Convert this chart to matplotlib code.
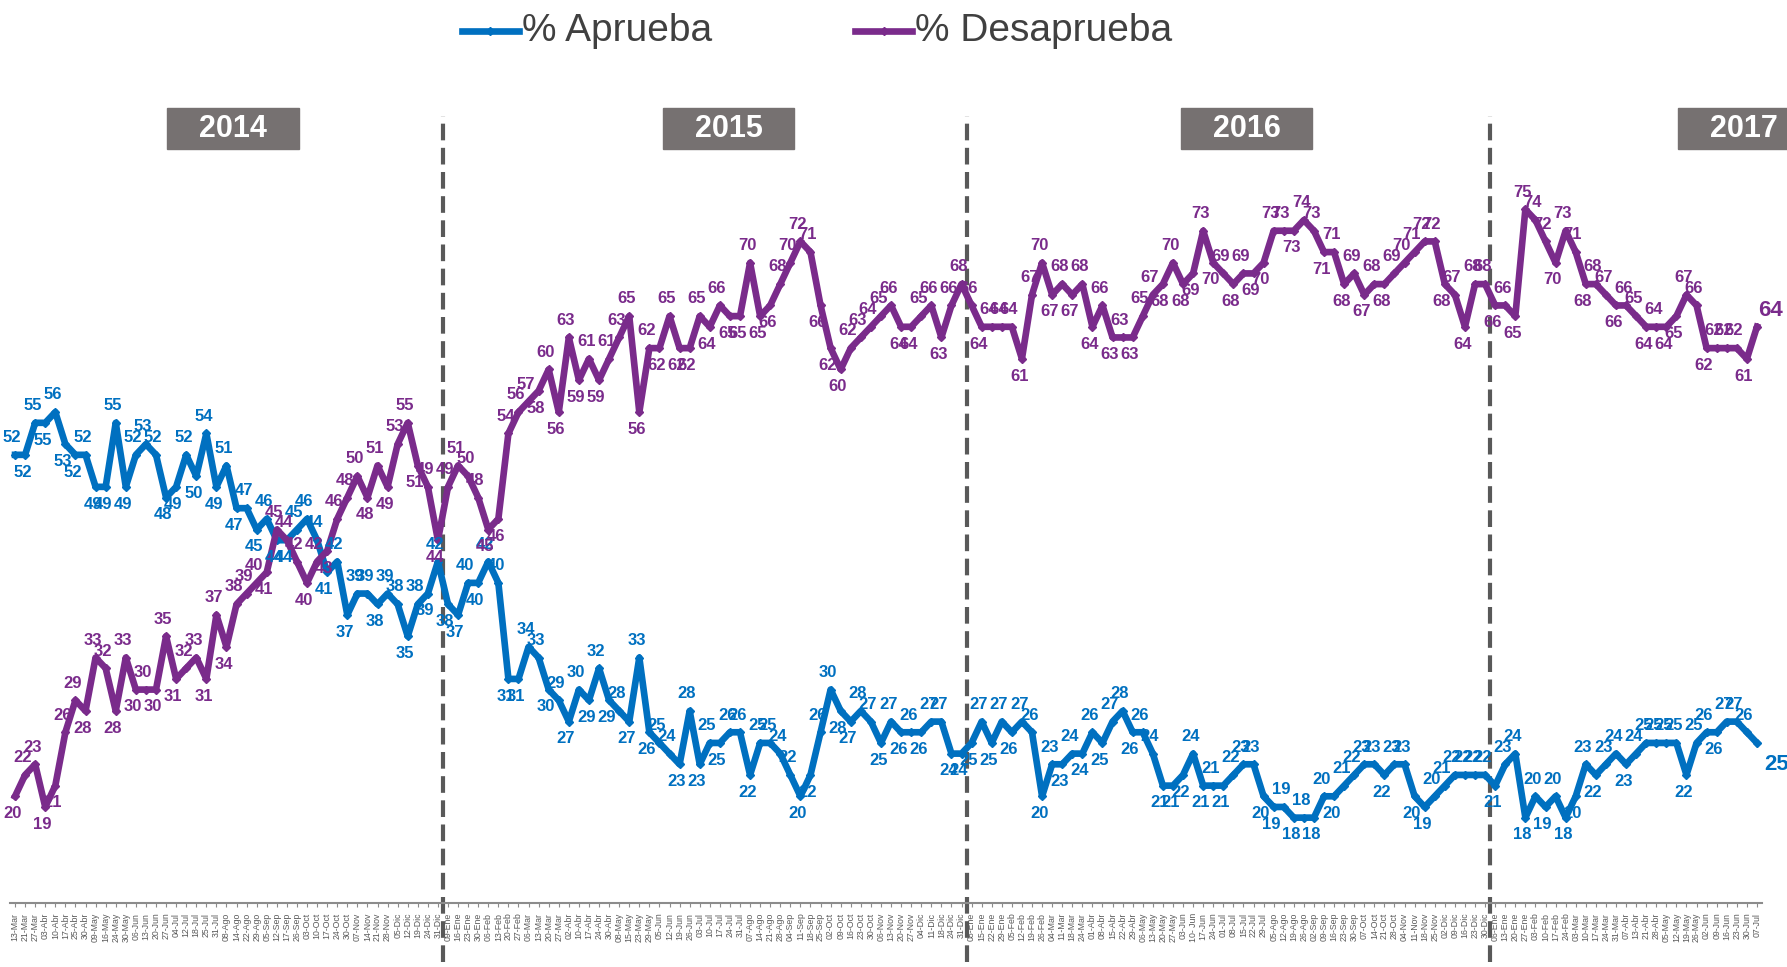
import matplotlib
matplotlib.use("Agg")
import matplotlib.pyplot as plt
from matplotlib.patches import Rectangle
from matplotlib.lines import Line2D
import numpy as np

# fechas de cada medicion semanal
fechas_2014 = ["13-Mar", "21-Mar", "27-Mar", "03-Abr", "10-Abr", "17-Abr", "25-Abr", "30-Abr",
               "09-May", "16-May", "24-May", "30-May", "06-Jun", "13-Jun", "20-Jun", "27-Jun",
               "04-Jul", "12-Jul", "18-Jul", "25-Jul", "31-Jul", "08-Ago", "14-Ago", "22-Ago",
               "29-Ago", "05-Sep", "12-Sep", "17-Sep", "26-Sep", "03-Oct", "10-Oct", "17-Oct",
               "24-Oct", "30-Oct", "07-Nov", "14-Nov", "21-Nov", "28-Nov", "05-Dic", "12-Dic",
               "19-Dic", "24-Dic", "31-Dic"]
fechas_2015 = ["09-Ene", "16-Ene", "23-Ene", "30-Ene", "06-Feb", "13-Feb", "20-Feb", "27-Feb",
               "06-Mar", "13-Mar", "20-Mar", "27-Mar", "02-Abr", "10-Abr", "17-Abr", "24-Abr",
               "30-Abr", "08-May", "15-May", "23-May", "29-May", "05-Jun", "12-Jun", "19-Jun",
               "26-Jun", "03-Jul", "10-Jul", "17-Jul", "24-Jul", "31-Jul", "07-Ago", "14-Ago",
               "21-Ago", "28-Ago", "04-Sep", "11-Sep", "18-Sep", "25-Sep", "02-Oct", "09-Oct",
               "16-Oct", "23-Oct", "30-Oct", "06-Nov", "13-Nov", "20-Nov", "27-Nov", "04-Dic",
               "11-Dic", "18-Dic", "24-Dic", "31-Dic"]
fechas_2016 = ["08-Ene", "15-Ene", "22-Ene", "29-Ene", "05-Feb", "12-Feb", "19-Feb", "26-Feb",
               "04-Mar", "11-Mar", "18-Mar", "24-Mar", "01-Abr", "08-Abr", "15-Abr", "22-Abr",
               "29-Abr", "06-May", "13-May", "20-May", "27-May", "03-Jun", "10- Jun", "17-Jun",
               "24-Jun", "01-Jul", "08-Jul", "15-Jul", "22-Jul", "29-Jul", "05-Ago", "12-Ago",
               "19-Ago", "26-Ago", "02-Sep", "09-Sep", "16-Sep", "23-Sep", "30-Sep", "07-Oct",
               "14-Oct", "21-Oct", "28-Oct", "04-Nov", "11-Nov", "18-Nov", "25-Nov", "02-Dic",
               "09-Dic", "16-Dic", "23-Dic", "30-Dic"]
fechas_2017 = ["06-Ene", "13-Ene", "20-Ene", "27-Ene", "03-Feb", "10-Feb", "17-Feb", "24-Feb",
               "03-Mar", "10-Mar", "17-Mar", "24-Mar", "31-Mar", "07-Abr", "13-Abr", "21-Abr",
               "28-Abr", "05-May", "12-May", "19-May", "26-May", "02-Jun", "09-Jun", "16-Jun",
               "23-Jun", "30-Jun", "07-Jul"]
fechas = fechas_2014 + fechas_2015 + fechas_2016 + fechas_2017

# % Aprueba
aprueba_2014 = [52, 52, 55, 55, 56, 53, 52, 52, 49, 49,
                55, 49, 52, 53, 52, 48, 49, 52, 50, 54,
                49, 51, 47, 47, 45, 46, 44, 44, 45, 46,
                44, 41, 42, 37, 39, 39, 38, 39, 38, 35,
                38, 39, 42]
aprueba_2015 = [38, 37, 40, 40, 42, 40, 31, 31, 34, 33, 30, 29, 27, 30, 29, 32,
                29, 28, 27, 33, 26, 25, 24, 23, 28, 23, 25, 25, 26, 26, 22, 25,
                25, 24, 22, 20, 22, 26, 30, 28, 27, 28, 27, 25, 27, 26,
                26, 26, 27, 27, 24, 24]
aprueba_2016 = [25, 27, 25, 27, 26, 27, 26, 20, 23, 23, 24, 24, 26, 25, 27, 28,
                26, 26, 24, 21, 21, 22, 24, 21,
                21, 21, 22, 23, 23, 20, 19, 19, 18, 18, 18, 20, 20, 21, 22, 23,
                23, 22, 23, 23, 20, 19, 20, 21, 22, 22, 22, 22]
aprueba_2017 = [21, 23, 24, 18, 20, 19, 20, 18, 20, 23, 22, 23, 24, 23, 24, 25,
                25, 25, 25, 22, 25, 26, 26, 27, 27, 26, 25]

# % Desaprueba
desaprueba_2014 = [20, 22, 23, 19, 21, 26, 29, 28, 33, 32,
                   28, 33, 30, 30, 30, 35, 31, 32, 33, 31,
                   37, 34, 38, 39, 40, 41, 45, 44, 42, 40,
                   42, 43, 46, 48, 50, 48, 51, 49, 53, 55,
                   51, 49, 44]
desaprueba_2015 = [49, 51, 50, 48, 45, 46, 54, 56, 57, 58, 60, 56, 63, 59,
                   61, 59, 61, 63, 65, 56, 62, 62, 65, 62, 62, 65, 64, 66, 65, 65,
                   70, 65, 66, 68, 70, 72, 71, 66, 62, 60, 62, 63, 64, 65, 66, 64,
                   64, 65, 66, 63, 66, 68]
desaprueba_2016 = [66, 64, 64, 64, 64, 61, 67, 70, 67, 68, 67, 68, 64, 66, 63, 63,
                   63, 65, 67, 68, 70, 68, 69,
                   73, 70, 69, 68, 69, 69, 70, 73, 73, 73, 74, 73, 71, 71, 68, 69,
                   67, 68, 68, 69, 70, 71, 72, 72, 68, 67, 64, 68, 68]
desaprueba_2017 = [66, 66, 65, 75, 74, 72, 70, 73, 71, 68, 68, 67, 66, 66, 65, 64,
                   64, 64, 65, 67, 66, 62, 62, 62, 62, 61, 64]

aprueba = aprueba_2014 + aprueba_2015 + aprueba_2016 + aprueba_2017
desaprueba = desaprueba_2014 + desaprueba_2015 + desaprueba_2016 + desaprueba_2017

anios = ["2014", "2015", "2016", "2017"]

azul = "#0070C0"
morado = "#7A2B8B"
gris_caja = "#767171"

W, H = 1787, 967
fig = plt.figure(figsize=(W / 100, H / 100), dpi=100)
ax = fig.add_axes([10 / W, 1 - 903 / H, 1752 / W, (903 - 102.7) / H])

x = np.arange(len(fechas))
ax.plot(x, aprueba, color=azul, lw=4.8, marker="D", ms=4, solid_joinstyle="round", zorder=3)
ax.plot(x, desaprueba, color=morado, lw=4.8, marker="D", ms=4, solid_joinstyle="round", zorder=3)

ax.set_xlim(-0.5, len(fechas) - 0.5)
ax.set_ylim(10, 85)


def etiquetas(vals, color):
    n = len(vals)
    for i, v in enumerate(vals):
        if i == n - 1:
            continue
        prev = vals[i - 1] if i > 0 else v
        nxt = vals[i + 1] if i < n - 1 else v
        arriba = v >= (prev + nxt) / 2
        ax.annotate(str(v), (i, v), xytext=(-2, 7 if arriba else -7), textcoords="offset points",
                    ha="center", va="bottom" if arriba else "top",
                    fontsize=12, fontweight="bold", color=color, family="Liberation Sans",
                    zorder=4)


etiquetas(aprueba, azul)
etiquetas(desaprueba, morado)

# ultimas etiquetas, mas grandes
ax.annotate(str(desaprueba[-1]), (len(x) - 1, desaprueba[-1]), xytext=(10, 4),
            textcoords="offset points", ha="center", va="bottom", fontsize=16,
            fontweight="bold", color=morado, family="Liberation Sans")
ax.annotate(str(aprueba[-1]), (len(x) - 1, aprueba[-1]), xytext=(14, -8),
            textcoords="offset points", ha="center", va="top", fontsize=16,
            fontweight="bold", color=azul, family="Liberation Sans")

# separadores de anio
cortes = [len(fechas_2014) - 0.5,
          len(fechas_2014) + len(fechas_2015) - 0.5,
          len(fechas_2014) + len(fechas_2015) + len(fechas_2016) - 0.5]
for c in cortes:
    ax.plot([c, c], [4.5, 83.8], color="#595959", lw=3, ls=(0, (4, 1.8)),
            clip_on=False, zorder=2)

# ejes
for s in ["top", "right", "left"]:
    ax.spines[s].set_visible(False)
ax.spines["bottom"].set_color("#8C8C8C")
ax.spines["bottom"].set_linewidth(1.5)
ax.set_yticks([])
ax.set_xticks(x)
ax.set_xticklabels(fechas, rotation=90, fontsize=6.3, color="#595959", family="Liberation Sans")
ax.tick_params(axis="x", length=3, width=0.8, color="#8C8C8C", pad=4)

# cajas de anio
cajas = [(167, 299), (663, 794), (1181, 1312), (1678, 1810)]
for (x0, x1), a in zip(cajas, anios):
    fig.add_artist(Rectangle((x0 / W, 1 - 149 / H), (x1 - x0) / W, 41 / H,
                             transform=fig.transFigure, color=gris_caja, zorder=5))
    xc = (x0 + x1) / 2 if x1 <= W else 1744
    fig.text(xc / W, 1 - 129 / H, a, ha="center", va="center", color="white",
             fontsize=22, fontweight="bold", family="Liberation Sans", zorder=6)

# leyenda
for (lx0, lx1, tx), lab, col in [((462, 519, 522), "% Aprueba", azul),
                                 ((855, 912, 915), "% Desaprueba", morado)]:
    fig.add_artist(Line2D([lx0 / W, lx1 / W], [1 - 31 / H, 1 - 31 / H], color=col, lw=4.8,
                          transform=fig.transFigure))
    fig.add_artist(Line2D([(lx0 + lx1) / 2 / W], [1 - 31 / H], color=col, marker="D", ms=4,
                          transform=fig.transFigure))
    fig.text(tx / W, 1 - 31 / H, lab, ha="left", va="center", fontsize=28, color="#404040",
             family="Liberation Sans")

fig.savefig("out.png", dpi=100)
